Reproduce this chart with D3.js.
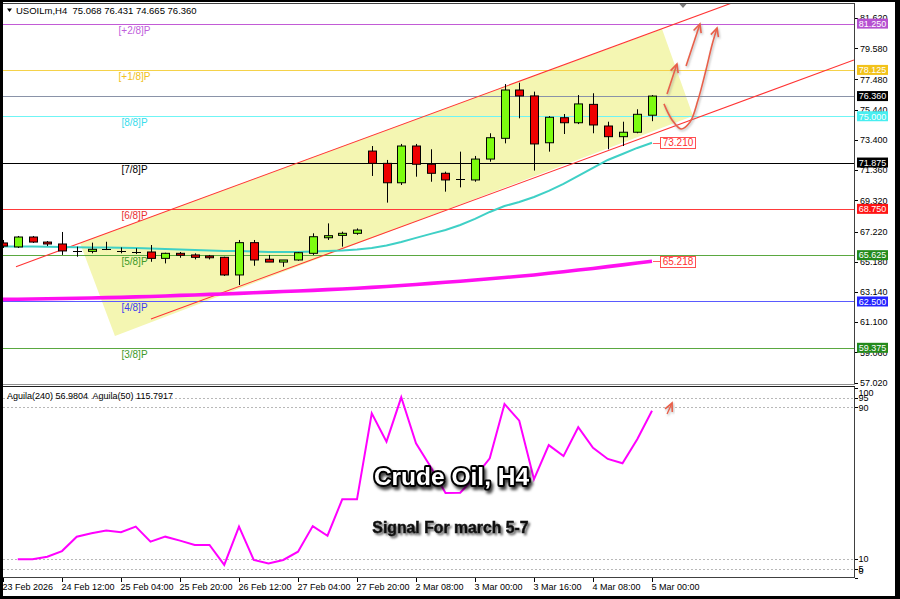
<!DOCTYPE html>
<html><head><meta charset="utf-8">
<script src="https://cdn.jsdelivr.net/npm/d3@7/dist/d3.min.js"></script>
<style>body{margin:0;background:#000}svg{display:block}</style>
</head><body><svg id="c" width="900" height="599"></svg>
<script>
// ---------- DATA ----------
const symbol = "USOILm,H4";
const timeLabels = ["23 Feb 2026","24 Feb 12:00","25 Feb 04:00","25 Feb 20:00","26 Feb 12:00","27 Feb 04:00","27 Feb 20:00","2 Mar 08:00","3 Mar 00:00","3 Mar 16:00","4 Mar 08:00","5 Mar 00:00"];
const opens  = [66.45,66.18,66.85,66.51,66.38,65.95,65.88,66.00,65.95,65.88,65.84,65.41,65.75,65.64,65.57,65.48,64.29,66.47,65.35,65.16,65.30,65.75,66.80,66.96,67.10,72.65,71.82,70.51,72.99,71.76,71.15,70.72,70.70,72.11,73.51,76.77,76.37,73.21,74.90,74.56,75.80,74.34,73.62,73.92,75.068];
const highs  = [66.65,66.92,66.92,66.58,67.19,66.20,66.47,66.53,66.15,66.09,66.31,65.79,65.84,65.75,65.64,65.52,66.65,66.65,65.64,65.30,65.84,67.10,67.77,67.21,67.43,72.99,72.05,73.13,73.13,72.77,71.26,72.61,72.32,73.85,77.17,77.26,76.66,75.01,75.15,76.43,76.55,74.63,74.63,75.47,76.431];
const lows   = [66.11,66.11,66.45,66.24,65.64,65.52,65.75,65.97,65.75,65.70,65.18,65.07,65.45,65.34,65.34,64.22,63.61,64.91,65.16,64.84,65.25,65.64,66.65,66.20,67.00,70.97,69.17,70.36,70.92,70.58,69.91,70.20,70.58,71.93,73.17,74.86,71.33,72.61,73.80,74.47,73.85,72.77,72.99,73.85,74.665];
const closes = [66.24,66.85,66.51,66.38,65.91,65.93,66.02,66.02,65.92,65.85,65.41,65.75,65.62,65.48,65.45,64.29,66.47,65.30,65.16,65.30,65.79,66.87,66.94,67.10,67.32,71.82,70.51,72.99,71.76,71.15,70.70,70.76,72.11,73.55,76.77,76.37,73.13,74.93,74.56,75.83,74.41,73.62,73.92,75.13,76.360];
const maFast = [66.21,66.21,66.21,66.19,66.18,66.16,66.14,66.14,66.12,66.11,66.08,66.04,66.01,65.98,65.94,65.91,65.91,65.87,65.84,65.84,65.84,65.87,65.91,65.94,66.01,66.11,66.28,66.52,66.79,67.06,67.32,67.66,68.07,68.54,68.94,69.21,69.55,69.96,70.43,70.97,71.51,72.05,72.45,72.86,73.21];
const maSlow = [62.64,62.65,62.67,62.68,62.70,62.72,62.74,62.76,62.78,62.81,62.84,62.87,62.91,62.94,62.98,63.01,63.05,63.09,63.13,63.17,63.21,63.25,63.30,63.34,63.39,63.45,63.51,63.58,63.65,63.72,63.80,63.87,63.95,64.03,64.12,64.20,64.29,64.40,64.51,64.62,64.73,64.85,64.97,65.10,65.218];
const aguila = [null,9.9,9.9,11.2,14.2,21.8,23.6,25.0,24.1,27.1,19.2,21.8,19.7,17.4,17.4,6.9,27.1,9.5,7.6,9.5,13.9,27.4,22.3,41.5,41.5,86.9,71.9,95.3,71.0,58.5,44.8,45.0,53.4,63.1,91.8,83.0,52.1,70.1,64.3,79.5,68.7,62.8,60.5,73.2,88.2];
const priceTicks = [81.620,79.580,77.480,75.440,73.400,71.360,69.320,67.220,65.180,63.140,61.100,59.060,57.020];
const levelValues = [81.250,78.125,75.000,71.875,68.750,65.625,62.500,59.375];
const levelNames  = ["[+2/8]P","[+1/8]P","[8/8]P","[7/8]P","[6/8]P","[5/8]P","[4/8]P","[3/8]P"];
const currentPrice = 76.360;
const indicatorLevels = [95,90,10,5];
const indicatorTicks = [100,95,90,10,5,0];
const indicatorLegend = "Aguila(240) 56.9804  Aguila(50) 115.7917";
// drawn objects, in (bar index, price) space
const channelUpper = [[0.88,64.85],[49.36,82.62]];
const channelLower = [[10.03,61.32],[57.69,78.79]];
const shadeRect = [[5.22,66.45],[44.68,80.89],[46.78,75.02],[7.59,60.17]];
const arrowA = [[45.02,76.50],[45.69,78.52]];
const arrowB = [[46.31,78.39],[47.25,81.22]];
const arrowC = [[44.81,75.83],[45.36,74.75],[45.97,74.14],[46.58,74.61],[47.12,76.09],[47.66,78.12],[48.07,79.81],[48.41,80.95]];
const arrowInd = [[45.02,86.5],[45.36,92.3]];
const title = "Crude Oil, H4";
const subtitle = "Signal For march 5-7";

// ---------- STYLES ----------
const levelLineColors = ["#c25bd6","#f5d24a","#6ff5f5","#000000","#ff3a3a","#5aa840","#5a5aff","#5aa840"];
const levelTextColors = ["#c060dc","#f0c020","#38dcec","#000000","#e83030","#3c9a28","#3c3cf0","#3c9a28"];
const levelBoxColors  = ["#b650d0","#f2c21a","#48eef0","#000000","#ff1414","#248a1c","#2424ff","#248a1c"];
const FONT = "'Liberation Sans', Arial, sans-serif";

const svg = d3.select('#c');
const defs = svg.append('defs');
defs.append('clipPath').attr('id','cm').append('rect').attr('x',3).attr('y',4).attr('width',851).attr('height',380);
defs.append('clipPath').attr('id','ci').append('rect').attr('x',3).attr('y',388).attr('width',851).attr('height',189);
const f1 = defs.append('filter').attr('id','sh1').attr('x','-20%').attr('y','-40%').attr('width','140%').attr('height','190%');
f1.append('feDropShadow').attr('dx',2).attr('dy',3).attr('stdDeviation',1.6).attr('flood-color','#000').attr('flood-opacity',0.75);
const f2 = defs.append('filter').attr('id','sh2').attr('x','-20%').attr('y','-40%').attr('width','140%').attr('height','190%');
f2.append('feDropShadow').attr('dx',2).attr('dy',2).attr('stdDeviation',1.2).attr('flood-color','#444').attr('flood-opacity',0.85);
const f3 = defs.append('filter').attr('id','sh3').attr('x','-50%').attr('y','-50%').attr('width','200%').attr('height','200%');
f3.append('feDropShadow').attr('dx',1).attr('dy',1.5).attr('stdDeviation',1).attr('flood-color','#888').attr('flood-opacity',0.6);
defs.append('marker').attr('id','ah').attr('markerUnits','userSpaceOnUse').attr('markerWidth',14).attr('markerHeight',14)
  .attr('viewBox','-8 -6 10 12').attr('refX',0).attr('refY',0).attr('orient','auto')
  .append('path').attr('d','M-7,-3.4L0,0L-7,3.4').attr('fill','none').attr('stroke','#e8604a').attr('stroke-width',1.4);

// frame
svg.append('rect').attr('width',900).attr('height',599).attr('fill','#000');
svg.append('rect').attr('x',3).attr('y',2).attr('width',892).attr('height',594).attr('fill','#fff');

// scales
const x = d3.scaleLinear().domain([0,44]).range([3,652]);
const y = d3.scaleLinear().domain([56.865,82.64]).range([385,3]);
const yi = d3.scaleLinear().domain([0,100]).range([578,388.4]);
const cr = v => Math.round(v)+0.5;

// ---------- MAIN PANEL ----------
const gm = svg.append('g').attr('clip-path','url(#cm)');
const lineXY = d3.line().x(d=>x(d[0])).y(d=>y(d[1]));
gm.append('path').attr('d', lineXY(shadeRect)+'Z').attr('fill','#f4f6b2');

levelValues.forEach((v,i)=>{
  gm.append('line').attr('x1',3).attr('x2',854).attr('y1',cr(y(v))).attr('y2',cr(y(v)))
    .attr('stroke',levelLineColors[i]).attr('stroke-width',1);
});
gm.append('line').attr('x1',3).attr('x2',854).attr('y1',cr(y(currentPrice))).attr('y2',cr(y(currentPrice)))
  .attr('stroke','#8a93a8').attr('stroke-width',1);

[channelUpper, channelLower].forEach(c=>{
  gm.append('path').attr('d',lineXY(c)).attr('stroke','#ff3434').attr('stroke-width',1.1).attr('fill','none');
});

const maLine = d3.line().x((d,i)=>x(i)).y(d=>y(d));
gm.append('path').attr('d',maLine(maSlow)).attr('fill','none').attr('stroke','#ff10f0').attr('stroke-width',3.6);
gm.append('path').attr('d',maLine(maFast)).attr('fill','none').attr('stroke','#3fd0c6').attr('stroke-width',2);

// candles
const candles = opens.map((o,i)=>({i,o,h:highs[i],l:lows[i],c:closes[i]}));
const cg = gm.append('g');
candles.forEach(d=>{
  const cx = cr(x(d.i));
  cg.append('line').attr('x1',cx).attr('x2',cx).attr('y1',y(d.h)).attr('y2',y(d.l)).attr('stroke','#000').attr('stroke-width',1);
  const top = y(Math.max(d.o,d.c)), bot = y(Math.min(d.o,d.c));
  if (bot-top < 1.5) {
    cg.append('line').attr('x1',cx-4.5).attr('x2',cx+4.5).attr('y1',cr((top+bot)/2)).attr('y2',cr((top+bot)/2)).attr('stroke','#000');
  } else {
    cg.append('rect').attr('x',cx-4).attr('width',8).attr('y',top).attr('height',bot-top)
      .attr('fill', d.c>d.o ? '#7dfc10' : '#ee0000').attr('stroke','#000').attr('stroke-width',1);
  }
});

// level names
levelValues.forEach((v,i)=>{
  gm.append('text').attr('x',134.5).attr('y',y(v)+10).attr('text-anchor','middle')
    .attr('font-family',FONT).attr('font-size',10).attr('fill',levelTextColors[i]).text(levelNames[i]);
});

// MA value tags
const fmt3 = d3.format('.3f');
[[maFast[44]],[maSlow[44]]].forEach(([v])=>{
  const yy = y(v), x0 = x(44)+8;
  gm.append('line').attr('x1',x(44)+1).attr('x2',x0).attr('y1',cr(yy)).attr('y2',cr(yy)).attr('stroke','#ff6060');
  gm.append('rect').attr('x',cr(x0)).attr('y',cr(yy-5.5)).attr('width',35).attr('height',11).attr('fill','#fff').attr('stroke','#ff5050');
  gm.append('text').attr('x',x0+18).attr('y',yy+3.5).attr('text-anchor','middle').attr('font-family',FONT)
    .attr('font-size',10).attr('fill','#ff3030').text(fmt3(v));
});

// annotations (hand-drawn arrows)
const ag = gm.append('g').attr('filter','url(#sh3)');
[arrowA, arrowB].forEach(a=>{
  ag.append('path').attr('d',lineXY(a)).attr('fill','none').attr('stroke','#e8604a').attr('stroke-width',1.6).attr('marker-end','url(#ah)');
});
ag.append('path').attr('d',d3.line().x(d=>x(d[0])).y(d=>y(d[1])).curve(d3.curveCatmullRom)(arrowC))
  .attr('fill','none').attr('stroke','#e8604a').attr('stroke-width',1.6).attr('marker-end','url(#ah)');

// shift marker
const sx = x(44)+31;
svg.append('path').attr('d',`M${sx-3.5},4L${sx+3.5},4L${sx},8Z`).attr('fill','#7a7a7a');

// header
svg.append('path').attr('d','M7,8.5L12,8.5L9.5,12Z').attr('fill','#000');
svg.append('text').attr('x',16).attr('y',14).attr('font-family',FONT).attr('font-size',9.5).attr('fill','#000')
  .attr('xml:space','preserve')
  .text(`${symbol}  ${opens[44].toFixed(3)} ${highs[44].toFixed(3)} ${lows[44].toFixed(3)} ${closes[44].toFixed(3)}`);

// borders main
svg.append('line').attr('x1',3).attr('x2',855).attr('y1',3.5).attr('y2',3.5).attr('stroke','#404040');
svg.append('line').attr('x1',854.5).attr('x2',854.5).attr('y1',3).attr('y2',385).attr('stroke','#404040');
svg.append('line').attr('x1',3).attr('x2',855).attr('y1',384.5).attr('y2',384.5).attr('stroke','#909090');
svg.append('line').attr('x1',3).attr('x2',855).attr('y1',386.5).attr('y2',386.5).attr('stroke','#202020');

// price axis
priceTicks.forEach(v=>{
  svg.append('line').attr('x1',855).attr('x2',858).attr('y1',cr(y(v))).attr('y2',cr(y(v))).attr('stroke','#000');
  svg.append('text').attr('x',860).attr('y',y(v)+3.2).attr('font-family',FONT).attr('font-size',9).attr('fill','#000').text(fmt3(v));
});
const boxes = levelValues.map((v,i)=>({v,col:levelBoxColors[i]})).concat([{v:currentPrice,col:'#000'}]);
boxes.forEach(b=>{
  const yy = y(b.v);
  svg.append('rect').attr('x',857).attr('y',yy-5).attr('width',31).attr('height',10).attr('fill',b.col);
  svg.append('text').attr('x',872.5).attr('y',yy+3.3).attr('text-anchor','middle').attr('font-family',FONT)
    .attr('font-size',9).attr('fill','#fff').text(fmt3(b.v));
});

// ---------- INDICATOR PANEL ----------
const gi = svg.append('g').attr('clip-path','url(#ci)');
indicatorLevels.forEach(v=>{
  gi.append('line').attr('x1',3).attr('x2',854).attr('y1',cr(yi(v))).attr('y2',cr(yi(v)))
    .attr('stroke','#b8b8b8').attr('stroke-dasharray','2,2');
});
gi.append('path').attr('d',d3.line().defined(d=>d!==null).x((d,i)=>x(i)).y(d=>yi(d))(aguila))
  .attr('fill','none').attr('stroke','#ff00ff').attr('stroke-width',2);
gi.append('path').attr('d',d3.line().x(d=>x(d[0])).y(d=>yi(d[1]))(arrowInd)).attr('filter','url(#sh3)')
  .attr('fill','none').attr('stroke','#e8604a').attr('stroke-width',1.4).attr('marker-end','url(#ah)');
svg.append('text').attr('x',7).attr('y',399).attr('font-family',FONT).attr('font-size',9).attr('fill','#000')
  .attr('xml:space','preserve').text(indicatorLegend);

svg.append('line').attr('x1',854.5).attr('x2',854.5).attr('y1',387).attr('y2',578).attr('stroke','#404040');
svg.append('line').attr('x1',3).attr('x2',855).attr('y1',577.5).attr('y2',577.5).attr('stroke','#404040');
indicatorTicks.forEach(v=>{
  svg.append('line').attr('x1',855).attr('x2',858).attr('y1',cr(yi(v))).attr('y2',cr(yi(v))).attr('stroke','#000');
  const ly = Math.min(Math.max(yi(v),393),570.5);
  svg.append('text').attr('x',858.5).attr('y',ly+3.2).attr('font-family',FONT).attr('font-size',9).attr('fill','#000').text(v);
});

// time axis
timeLabels.forEach((t,k)=>{
  const tx = cr(x(k*4));
  svg.append('line').attr('x1',tx).attr('x2',tx).attr('y1',578).attr('y2',582).attr('stroke','#000');
  svg.append('text').attr('x',tx-1).attr('y',589.5).attr('font-family',FONT).attr('font-size',9).attr('fill','#000').text(t);
});

// overlay titles
svg.append('text').attr('x',451.5).attr('y',484.5).attr('text-anchor','middle').attr('font-family',FONT)
  .attr('font-weight','bold').attr('font-size',24.5).attr('fill','#fff').attr('stroke','#000').attr('stroke-width',3.8)
  .attr('stroke-linejoin','round').attr('paint-order','stroke').attr('filter','url(#sh1)').text(title);
svg.append('text').attr('x',450.5).attr('y',533.3).attr('text-anchor','middle').attr('font-family',FONT)
  .attr('font-weight','bold').attr('font-size',15.8).attr('fill','#111').attr('stroke','#111').attr('stroke-width',0.5)
  .attr('filter','url(#sh2)').text(subtitle);
</script></body></html>
